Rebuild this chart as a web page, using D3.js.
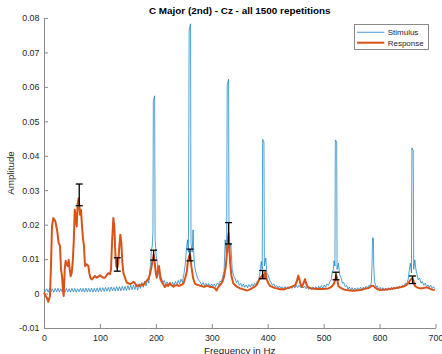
<!DOCTYPE html>
<html lang="en">
  <head>
    <meta charset="utf-8" />
    <style>
      body { margin: 0; background: #fff; }
      svg { display: block; font-family: "Liberation Sans", Arial, sans-serif; }
    </style>
  </head>
  <body>
    <script src="https://cdn.jsdelivr.net/npm/d3@7/dist/d3.min.js"></script>
    <script>
      var width = 442,
        height = 354;

      // amplitudes below are in units of 1e-3
      // stimulus spectrum: [frequency in Hz, amplitude]
      var stimulus = [
        [0, 1.2], [2.5, 0.6], [5, 1.4], [7.5, 0.4], [10, 1.5], [12.5, 0.5], [15, 1.4], [17.5, 0.4],
        [20, 1.5], [22.5, 0.5], [25, 1.5], [27.5, 0.4], [30, 1.4], [32.5, 0.5], [35, 1.5], [37.5, 0.4],
        [40, 1.5], [42.5, 0.5], [45, 1.4], [47.5, 0.4], [50, 1.5], [52.5, 0.5], [55, 1.5], [57.5, 0.4],
        [60, 1.4], [62.5, 0.5], [65, 1.5], [67.5, 0.5], [70, 1.5], [72.5, 0.4], [75, 1.6], [77.5, 0.5],
        [80, 1.5], [82.5, 0.5], [85, 1.6], [87.5, 0.4], [90, 1.5], [92.5, 0.5], [95, 1.6], [97.5, 0.5],
        [100, 1.7], [102.5, 0.6], [105, 1.7], [107.5, 0.6], [110, 1.8], [112.5, 0.7], [115, 1.8], [117.5, 0.6],
        [120, 1.9], [122.5, 0.8], [125, 1.8], [127.5, 0.7], [130, 2.0], [132.5, 0.8], [135, 2.0], [137.5, 0.8],
        [140, 2.1], [142.5, 0.9], [145, 2.1], [147.5, 0.9], [150, 2.3], [152.5, 1.0], [155, 2.4], [157.5, 1.1],
        [160, 2.5], [162.5, 1.2], [165, 2.6], [167.5, 1.0], [170, 2.9], [172.5, 1.5], [175, 3.2], [177.5, 1.8],
        [180, 3.6], [182.5, 2.2], [185, 4.3], [187.5, 3.0], [189, 6.0], [190.5, 8.5], [192, 12.5], [193.5, 13.8],
        [194.8, 18], [195.5, 56], [197.8, 57.4], [198.6, 16], [200.5, 11], [202, 9.8], [203.5, 6.5], [205, 5.9],
        [207.5, 4.0], [210, 4.5], [212.5, 3.2], [215, 3.8], [217.5, 2.6], [220, 3.4], [222.5, 2.4], [225, 3.2],
        [227.5, 2.2], [230, 3.3], [232.5, 2.3], [235, 3.5], [237.5, 2.5], [240, 3.8], [242.5, 2.8], [245, 4.2],
        [247.5, 3.2], [250, 5.5], [252.5, 8.3], [254.5, 12.7], [256.5, 15.6], [258.2, 12], [259.5, 76.5], [262, 78.3],
        [262.8, 14.6], [265, 12], [266.5, 18.5], [268, 11], [269.5, 7.8], [272, 5.9], [274.5, 4.5], [277, 3.8],
        [279.5, 3.3], [282, 2.5], [284.5, 3.2], [287, 2.3], [289.5, 3.0], [292, 2.2], [294.5, 2.9], [297, 2.0],
        [299.5, 2.8], [302, 2.1], [304.5, 2.8], [307, 2.0], [309.5, 3.0], [312, 2.6], [314.5, 3.6], [317, 3.4],
        [319.5, 4.8], [322, 6.5], [324, 15.6], [326.5, 10], [327.6, 60.5], [330, 62.2], [330.8, 12], [334, 14.6],
        [336.5, 6.9], [339, 5.2], [341.5, 4.5], [344, 3.2], [346.5, 3.8], [349, 2.4], [351.5, 3.0], [354, 2.0],
        [356.5, 2.7], [359, 1.8], [361.5, 2.5], [364, 1.7], [366.5, 2.6], [369, 1.9], [371.5, 2.8], [374, 2.2],
        [376.5, 3.0], [379, 2.6], [381.5, 3.6], [384, 4.0], [386.5, 6.4], [388.5, 9.3], [390.2, 7], [390.9, 44.8],
        [393.3, 44], [394, 8], [396.5, 10.3], [398.5, 6], [401, 5.3], [403.5, 3.8], [406, 3.3], [408.5, 2.4],
        [411, 2.8], [413.5, 2.0], [416, 2.3], [418.5, 1.6], [421, 2.2], [423.5, 1.5], [426, 2.0], [428.5, 1.4],
        [431, 2.0], [433.5, 1.3], [436, 2.0], [438.5, 1.4], [441, 2.1], [443.5, 1.5], [446, 2.2], [448.5, 1.6],
        [451, 2.4], [453.5, 1.7], [456, 2.4], [458.5, 1.8], [461, 2.3], [463.5, 1.6], [466, 2.2], [468.5, 1.4],
        [471, 2.0], [473.5, 1.2], [476, 1.9], [478.5, 1.1], [481, 1.9], [483.5, 1.2], [486, 2.0], [488.5, 1.3],
        [491, 2.1], [493.5, 1.5], [496, 2.3], [498.5, 1.6], [501, 2.5], [503.5, 1.8], [506, 2.8], [508.5, 2.4],
        [511, 3.4], [513.5, 4.0], [515.5, 6.3], [517.5, 7], [518.5, 9.5], [520.2, 8], [520.9, 44.6], [523.3, 44],
        [524, 7], [526.5, 8.8], [528.5, 5.5], [531, 4.6], [533.5, 3.0], [536, 3.2], [538.5, 2.0], [541, 2.4],
        [543.5, 1.3], [546, 1.9], [548.5, 1.0], [551, 1.7], [553.5, 0.9], [556, 1.6], [558.5, 0.9], [561, 1.7],
        [563.5, 1.0], [566, 1.8], [568.5, 1.1], [571, 1.9], [573.5, 1.3], [576, 2.1], [578.5, 1.6], [581, 2.4],
        [583.5, 2.0], [585.5, 3.5], [586.8, 10], [587.4, 16.2], [589, 16], [589.6, 8], [591, 3.5], [593.5, 2.0],
        [596, 2.2], [598.5, 1.2], [601, 1.8], [603.5, 1.0], [606, 1.7], [608.5, 0.9], [611, 1.6], [613.5, 0.9],
        [616, 1.7], [618.5, 1.0], [621, 1.8], [623.5, 1.1], [626, 1.9], [628.5, 1.3], [631, 2.0], [633.5, 1.4],
        [636, 2.2], [638.5, 1.6], [641, 2.5], [643.5, 2.0], [646, 3.0], [648.5, 2.8], [651, 4.0], [653, 6.7],
        [655, 8.8], [657, 6], [657.8, 42.3], [660.2, 41.5], [661, 7], [663, 9.8], [665, 7], [666.5, 5.9],
        [669, 4.0], [671.5, 4.5], [674, 3.0], [676.5, 3.5], [679, 2.4], [681.5, 3.0], [684, 2.0], [686.5, 2.5],
        [689, 1.8], [691.5, 2.4], [694, 1.5], [696.5, 2.0], [699, 1.4]
      ];

      // EEG response spectrum: [frequency in Hz, amplitude]
      var response = [
        [0, 0.3], [2.5, -0.6], [5, -1.2], [7.8, -2.4], [10.7, -0.7], [12.5, 8], [14.3, 19.5], [16.7, 21.9],
        [18.5, 21.5], [20.3, 21], [22, 19.5], [23.8, 18], [26.2, 14.7], [28.6, 13.8], [30.4, 7], [32.2, 5.1],
        [34, 0.8], [35.2, -0.7], [37, 7], [38.7, 9.5], [40.5, 8.5], [42.4, 8], [44.1, 9.8], [46, 7],
        [47.7, 5], [49.5, 6], [51.3, 9], [53.1, 14.7], [55, 24.3], [56.7, 22.4], [58.5, 19.5], [60.3, 26.2],
        [62, 27.7], [63.2, 25.3], [64.4, 22.9], [66.2, 24.3], [68, 19.5], [69.7, 16], [71.5, 13.8], [73.3, 8],
        [76.3, 8.5], [79.3, 8], [81, 6], [82.8, 4.6], [85.2, 4.1], [88.2, 4.6], [91.2, 5.1], [94.2, 4.6],
        [97.2, 4.9], [100.1, 5.3], [103, 4.9], [106, 4.6], [109, 4.6], [112, 5.3], [115, 5.9], [118, 5.6],
        [119.8, 7], [121.6, 14.7], [124, 21.9], [125.8, 19.5], [127.5, 11.8], [129.3, 8], [131.1, 7.5], [133, 9.4],
        [134.7, 13.8], [136.5, 17.1], [138.3, 14.7], [140.1, 9], [141.9, 6], [144.9, 4.6], [147.8, 3.2], [150.8, 3],
        [153.8, 2.7], [156.7, 3], [159.7, 3.4], [162.7, 3], [165.7, 2.2], [168.6, 2.4], [171.6, 2.2], [174.6, 2.7],
        [177.6, 2.4], [180.6, 3.2], [183.5, 3.7], [186.5, 4.1], [189.5, 5.6], [192.5, 8], [194.3, 9.9], [196.1, 11.3],
        [198, 8.9], [199.8, 6], [201.6, 4.6], [203.4, 6.5], [205.5, 8], [208, 5], [210, 3.5], [213, 2.8],
        [216, 1.9], [219.6, 2.6], [222, 2.2], [225, 3], [228, 2.4], [231.5, 2.0], [234, 2.3], [237.6, 2.5],
        [240.5, 2.2], [243.6, 2.4], [246.5, 2.6], [249.6, 3], [252.5, 4.5], [255.5, 6.5], [257.3, 9.4], [258.8, 10.5],
        [260.5, 11.2], [262, 10.5], [263.6, 7.8], [266.6, 4.5], [269.6, 3], [272.5, 2.6], [275.6, 2.5], [278.5, 2.3],
        [281.5, 2.2], [284.5, 2.0], [287.5, 2.0], [290.5, 2.3], [293.5, 2.2], [296.5, 1.9], [299.5, 1.9], [302.5, 1.8],
        [305.4, 1.6], [308.4, 0.9], [311.4, 1.8], [314.5, 2.5], [317.4, 3], [320, 3.8], [322, 5], [325, 7.8],
        [327.5, 12.6], [329.3, 16.5], [330.3, 17.5], [331, 15], [332.9, 8.7], [335.3, 5], [338.5, 3], [341.5, 2.5],
        [344.5, 2], [347.5, 1.8], [350.4, 1.5], [353.4, 1.4], [356.4, 1.2], [359.4, 1.1], [362.4, 0.9], [365.4, 1.0],
        [368.3, 1.2], [371.3, 1.5], [374.3, 1.8], [377.3, 2.1], [380.2, 2.5], [383.2, 3.5], [386.2, 4.5], [389.2, 5],
        [391, 5.5], [392.2, 5.2], [394, 4.5], [395.8, 6.5], [398.2, 4.1], [401.2, 3], [404.2, 2.2], [407, 2.0],
        [410.1, 1.8], [413, 1.6], [416.1, 1.5], [419, 1.4], [422, 1.2], [425, 1.3], [428, 1.2], [431, 1.3],
        [434, 1.5], [437, 1.6], [440, 1.8], [443, 2.0], [446, 2.2], [449, 2.4], [451.9, 3.5], [454.7, 5.2],
        [456.7, 4], [459, 2.5], [461, 1.9], [464, 3.0], [466.7, 4.2], [469, 2.8], [471.5, 1.9], [475.6, 1.6],
        [479.5, 1.5], [483.5, 1.4], [487.5, 1.3], [491.5, 1.4], [495.5, 1.3], [499.4, 1.3], [503.4, 1.4], [508.3, 1.5],
        [511.3, 1.7], [514.3, 2.0], [518.5, 2.9], [520.5, 3.9], [522.5, 5.3], [524, 4.5], [526.2, 2.2], [529, 1.8],
        [532.2, 1.5], [536, 1.2], [541, 1.0], [547, 0.9], [553, 0.8], [559, 0.9], [565, 1.0], [570, 1.2],
        [575.6, 1.5], [580, 1.6], [582.8, 1.8], [585.7, 2.2], [588.5, 2.3], [591.7, 1.8], [596, 1.3], [600.6, 1.0],
        [606, 1.1], [612.5, 1.2], [618, 1.3], [624.4, 1.5], [630, 1.6], [636.3, 1.8], [641, 2.0], [645.2, 2.2],
        [648, 2.5], [651.2, 3], [655.4, 4], [659, 4.5], [661, 3.5], [663.1, 2.2], [667, 1.8], [672, 1.5],
        [678, 1.6], [684, 1.8], [688, 1.6], [692.9, 1.2], [698.8, 1.0]
      ];

      // error bars on the response (units 1e-3)
      var errFreq = [63, 131, 196, 261, 330, 391, 522, 659];
      var errLow = [25.5, 6.5, 9.7, 9.5, 14.4, 4.3, 4.0, 2.9];
      var errHigh = [31.8, 10.4, 12.6, 12.9, 20.6, 6.7, 6.2, 5.1];

      var xTicks = [0, 100, 200, 300, 400, 500, 600, 700];
      var yTicks = [-0.01, 0, 0.01, 0.02, 0.03, 0.04, 0.05, 0.06, 0.07, 0.08];
      var yTickLabels = ["-0.01", "0", "0.01", "0.02", "0.03", "0.04", "0.05", "0.06", "0.07", "0.08"];
      var seriesNames = ["Stimulus", "Response"];

      var blue = "#0072bd",
        orange = "#d95319",
        axisCol = "#8a8a8a",
        textCol = "#262626";

      var svg = d3.select("body")
        .append("svg")
        .attr("width", width)
        .attr("height", height);

      var x = d3.scaleLinear().domain([0, 700]).range([44, 435.5]);
      var y = d3.scaleLinear().domain([-0.01, 0.08]).range([328, 18]);

      // axes (box off, ticks pointing in)
      var xAxis = svg.append("g")
        .attr("transform", "translate(0," + y(-0.01) + ")")
        .call(d3.axisBottom(x).tickValues(xTicks).tickSize(-4).tickPadding(7).tickSizeOuter(0));
      var yAxis = svg.append("g")
        .attr("transform", "translate(" + x(0) + ",0)")
        .call(d3.axisLeft(y).tickValues(yTicks).tickSize(-4).tickPadding(4.5).tickSizeOuter(0)
          .tickFormat(function (d, i) { return yTickLabels[i]; }));

      [xAxis, yAxis].forEach(function (g) {
        g.select(".domain").attr("stroke", axisCol);
        g.selectAll(".tick line").attr("stroke", axisCol);
        g.selectAll(".tick text")
          .attr("fill", textCol)
          .style("font-size", "8.9px")
          .style("font-family", "Liberation Sans, Arial, sans-serif");
      });

      var line = d3.line()
        .x(function (d) { return x(d[0]); })
        .y(function (d) { return y(d[1] / 1000); });

      svg.append("path")
        .datum(stimulus)
        .attr("fill", "none")
        .attr("stroke", blue)
        .attr("stroke-opacity", 0.85)
        .attr("stroke-width", 0.8)
        .attr("stroke-linejoin", "round")
        .attr("d", line);

      svg.append("path")
        .datum(response)
        .attr("fill", "none")
        .attr("stroke", orange)
        .attr("stroke-width", 2)
        .attr("stroke-linejoin", "round")
        .attr("d", line);

      // error bars
      var eb = svg.append("g").attr("stroke", "#000").attr("stroke-width", 1.3);
      errFreq.forEach(function (f, i) {
        var cx = x(f), y0 = y(errLow[i] / 1000), y1 = y(errHigh[i] / 1000);
        eb.append("line").attr("x1", cx).attr("x2", cx).attr("y1", y0).attr("y2", y1);
        eb.append("line").attr("x1", cx - 3.5).attr("x2", cx + 3.5).attr("y1", y0).attr("y2", y0);
        eb.append("line").attr("x1", cx - 3.5).attr("x2", cx + 3.5).attr("y1", y1).attr("y2", y1);
      });

      // title and labels
      svg.append("text")
        .attr("x", 239.75).attr("y", 14)
        .attr("text-anchor", "middle")
        .attr("fill", "#000")
        .style("font-size", "9.9px")
        .style("font-weight", "bold")
        .text("C Major (2nd) - Cz - all 1500 repetitions");

      svg.append("text")
        .attr("x", 239.75).attr("y", 353.5)
        .attr("text-anchor", "middle")
        .attr("fill", textCol)
        .style("font-size", "9.8px")
        .text("Frequency in Hz");

      svg.append("text")
        .attr("transform", "translate(14,173) rotate(-90)")
        .attr("text-anchor", "middle")
        .attr("fill", textCol)
        .style("font-size", "9.8px")
        .text("Amplitude");

      // legend
      var lg = svg.append("g");
      lg.append("rect")
        .attr("x", 354.5).attr("y", 24.5)
        .attr("width", 74).attr("height", 25)
        .attr("fill", "#fff")
        .attr("stroke", axisCol)
        .attr("stroke-width", 1);
      var legendColors = [blue, orange],
        legendWidths = [1.2, 2];
      seriesNames.forEach(function (name, i) {
        var ly = 32.3 + i * 10.4;
        lg.append("line")
          .attr("x1", 357).attr("x2", 384.3)
          .attr("y1", ly).attr("y2", ly)
          .attr("stroke", legendColors[i])
          .attr("stroke-opacity", i === 0 ? 0.6 : 1)
          .attr("stroke-width", legendWidths[i]);
        lg.append("text")
          .attr("x", 387.7).attr("y", ly + 2.9)
          .attr("fill", textCol)
          .style("font-size", "8px")
          .text(name);
      });
      console.log("ready..");
    </script>
  </body>
</html>
